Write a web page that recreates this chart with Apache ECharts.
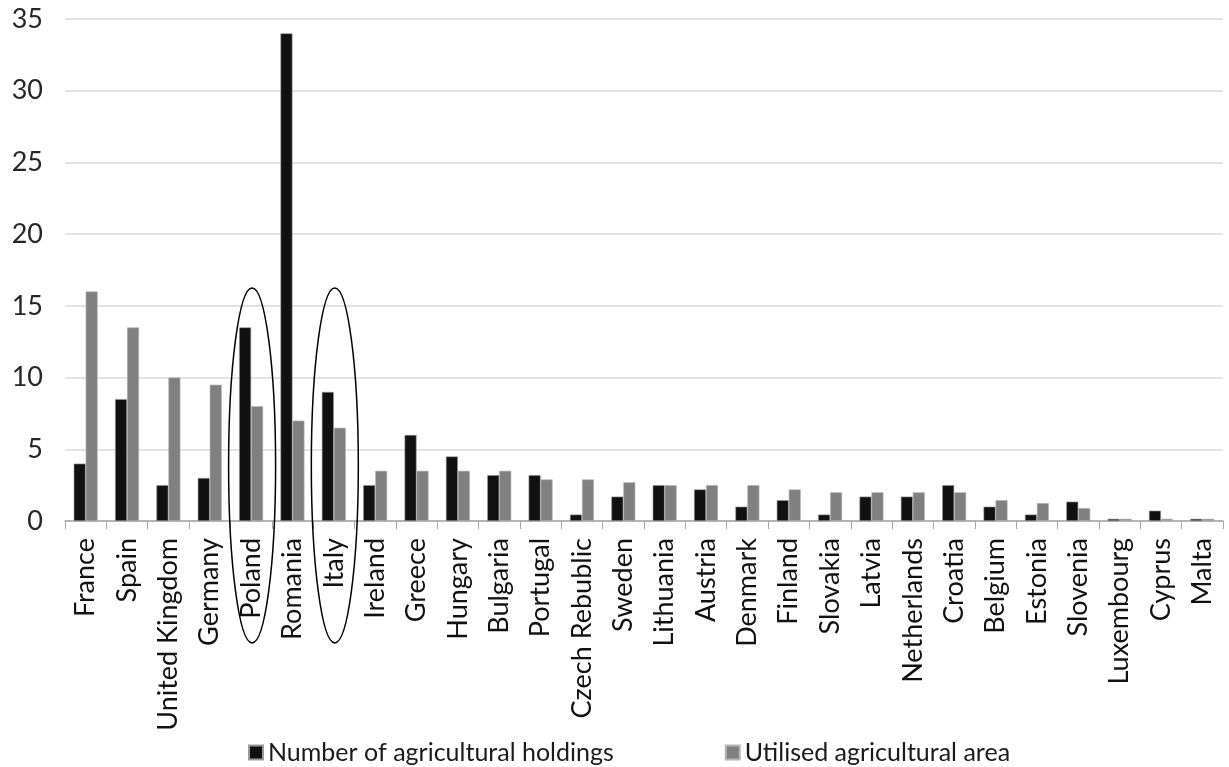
<!DOCTYPE html>
<html>
<head>
<meta charset="utf-8">
<title>Agricultural holdings and utilised agricultural area</title>
<script src="https://cdn.jsdelivr.net/npm/echarts@6/dist/echarts.min.js"></script>
<style>
  html, body { margin: 0; padding: 0; background: #fff; }
  #chart { width: 1229px; height: 767px; }
</style>
</head>
<body>
<div id="chart"></div>
<script>
const countries = [
  "France", "Spain", "United Kingdom", "Germany", "Poland", "Romania", "Italy",
  "Ireland", "Greece", "Hungary", "Bulgaria", "Portugal", "Czech Rebublic",
  "Sweden", "Lithuania", "Austria", "Denmark", "Finland", "Slovakia", "Latvia",
  "Netherlands", "Croatia", "Belgium", "Estonia", "Slovenia", "Luxembourg",
  "Cyprus", "Malta"
];
const holdings = [
  4, 8.5, 2.5, 3, 13.5, 34, 9,
  2.5, 6, 4.5, 3.2, 3.2, 0.45,
  1.7, 2.5, 2.2, 1, 1.45, 0.45, 1.7,
  1.7, 2.5, 1, 0.45, 1.35, 0.15,
  0.72, 0.15
];
const area = [
  16, 13.5, 10, 9.5, 8, 7, 6.5,
  3.5, 3.5, 3.5, 3.5, 2.9, 2.9,
  2.7, 2.5, 2.5, 2.5, 2.2, 2, 2,
  2, 2, 1.45, 1.25, 0.9, 0.15,
  0.15, 0.15
];
const yTicks = [0, 5, 10, 15, 20, 25, 30, 35];
const highlighted = ["Poland", "Italy"];

const font = "Lato, 'Open Sans', sans-serif";
const chart = echarts.init(document.getElementById("chart"));

const option = {
  animation: false,
  textStyle: { fontFamily: font },
  grid: { left: 65, right: 6, top: 19, bottom: 246 },
  legend: {
    data: ["Number of agricultural holdings", "Utilised agricultural area"],
    left: 243,
    top: 735,
    icon: "rect",
    itemWidth: 14,
    itemHeight: 14,
    itemGap: 111,
    textStyle: { fontFamily: font, fontSize: 25, color: "#1a1a1a" }
  },
  xAxis: {
    type: "category",
    data: countries,
    axisLine: { lineStyle: { color: "#a6a6a6", width: 1.5 } },
    axisTick: { show: true, length: 8, lineStyle: { color: "#a6a6a6" } },
    axisLabel: {
      rotate: 90,
      interval: 0,
      margin: 17,
      fontFamily: font,
      fontSize: 27,
      color: "#111"
    }
  },
  yAxis: {
    type: "value",
    min: yTicks[0],
    max: yTicks[yTicks.length - 1],
    interval: 5,
    axisLine: { show: false },
    axisTick: { show: false },
    splitLine: { lineStyle: { color: "#d9d9d9", width: 1.5 } },
    axisLabel: { margin: 22, fontFamily: font, fontSize: 27, color: "#262626" }
  },
  series: [
    {
      name: "Number of agricultural holdings",
      type: "bar",
      data: holdings,
      barGap: "0%",
      barCategoryGap: "42%",
      itemStyle: { color: "#111111", borderColor: "#9a9a9a", borderWidth: 0.6 }
    },
    {
      name: "Utilised agricultural area",
      type: "bar",
      data: area,
      itemStyle: { color: "#808080", borderColor: "#b5b5b5", borderWidth: 0.6 }
    }
  ]
};

chart.setOption(option);

// ellipses round the highlighted countries
const drawEllipses = () => {
  const yTop = chart.convertToPixel({ yAxisIndex: 0 }, 16.25);
  const yBottom = chart.convertToPixel({ yAxisIndex: 0 }, -8.5);
  const elements = highlighted.map((name) => {
    const cx = chart.convertToPixel({ xAxisIndex: 0 }, name) + 1;
    return {
      type: "ellipse",
      shape: { cx: cx, cy: (yTop + yBottom) / 2, rx: 23.5, ry: (yBottom - yTop) / 2 },
      style: { fill: null, stroke: "#000", lineWidth: 1.5 },
      z: 100
    };
  });
  chart.setOption({ graphic: elements });
};
drawEllipses();
</script>
</body>
</html>
